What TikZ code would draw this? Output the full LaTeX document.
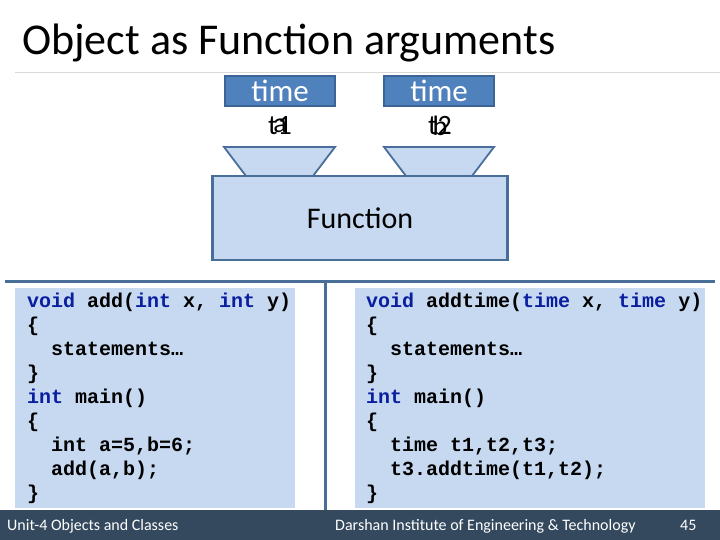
\documentclass[tikz,border=0pt]{standalone}
\usepackage{fontspec}
\setmainfont{Carlito}
\newfontfamily\codefont{Liberation Mono}
\usetikzlibrary{positioning}
\definecolor{argblue}{HTML}{4F81BD}
\definecolor{argedge}{HTML}{3A6594}
\definecolor{lightfill}{HTML}{C6D9F1}
\definecolor{boxedge}{HTML}{4A6E9A}
\definecolor{kwblue}{HTML}{0A1EA0}
\definecolor{footbar}{HTML}{34495E}
\newcommand{\kw}[1]{\textcolor{kwblue}{#1}}

\begin{document}
\begin{tikzpicture}[
    x=1pt, y=-1pt,
    argbox/.style={rectangle, draw=argedge, fill=argblue, line width=1.5pt,
        minimum width=110pt, minimum height=30pt, inner sep=0pt,
        text=white, font=\fontsize{31}{32}\selectfont},
    argname/.style={font=\fontsize{28}{30}\selectfont, inner sep=0pt},
    funnel/.style={draw=boxedge, fill=lightfill, line width=1.8pt},
    funcbox/.style={rectangle, draw=boxedge, fill=lightfill, line width=2.5pt,
        minimum width=295pt, minimum height=84pt,
        font=\fontsize{30}{32}\selectfont},
    codebox/.style={fill=lightfill},
    code/.style={anchor=north west, align=left, inner sep=0pt,
        font=\codefont\bfseries\fontsize{20}{24}\selectfont},
    divider/.style={draw=boxedge, line width=3pt},
    foot/.style={text=white, inner sep=0pt, anchor=base west,
        font=\fontsize{16}{18}\selectfont}
]
    \useasboundingbox (0,0) rectangle (720,540);
    % Title
    \node[anchor=base west, inner sep=0pt, font=\fontsize{44}{46}\selectfont] (title) at (22,55) {Object as Function arguments};
    \draw[gray!30, line width=0.8pt] (15,72) -- (720,72);
    % Arguments
    \node[argbox] (type1) at (280,91) {time};
    \node[argbox] (type2) at (439,91) {time};
    \node[argname] (name1) at (280,126) {t1};
    \node[argname] at (name1) {a};
    \node[argname] (name2) at (440,126) {t2};
    \node[argname] at (name2) {b};
    % Function
    \node[funcbox] (func) at (360,218) {Function};
    \draw[funnel] (224,147) -- (335,147) -- (313,176) -- (246,176) -- cycle;
    \draw[funnel] (384,147) -- (494,147) -- (472,176) -- (406,176) -- cycle;
    % Dividers
    \draw[divider] (5,281) -- (715,281);
    \draw[divider] (325,281) -- (325,510);
    % Code
    \fill[codebox] (15,288) rectangle (295,508);
    \fill[codebox] (355,288) rectangle (705,508);
    \node[code] (codeleft) at (27,293) {\kw{void} add(\kw{int} x, \kw{int} y)\\
{\char`\{}\\
~~statements…\\
{\char`\}}\\
\kw{int} main()\\
{\char`\{}\\
~~int a=5,b=6;\\
~~add(a,b);\\
{\char`\}}};
    \node[code] (coderight) at (366,293) {\kw{void} addtime(\kw{time} x, \kw{time} y)\\
{\char`\{}\\
~~statements…\\
{\char`\}}\\
\kw{int} main()\\
{\char`\{}\\
~~time t1,t2,t3;\\
~~t3.addtime(t1,t2);\\
{\char`\}}};
    % Footer
    \fill[footbar] (0,510) rectangle (720,540);
    \node[foot] (unit) at (7,530) {Unit-4 Objects and Classes};
    \node[foot] (inst) at (335,530) {Darshan Institute of Engineering \& Technology};
    \node[foot] (page) at (680,530) {45};
\end{tikzpicture}
\end{document}
